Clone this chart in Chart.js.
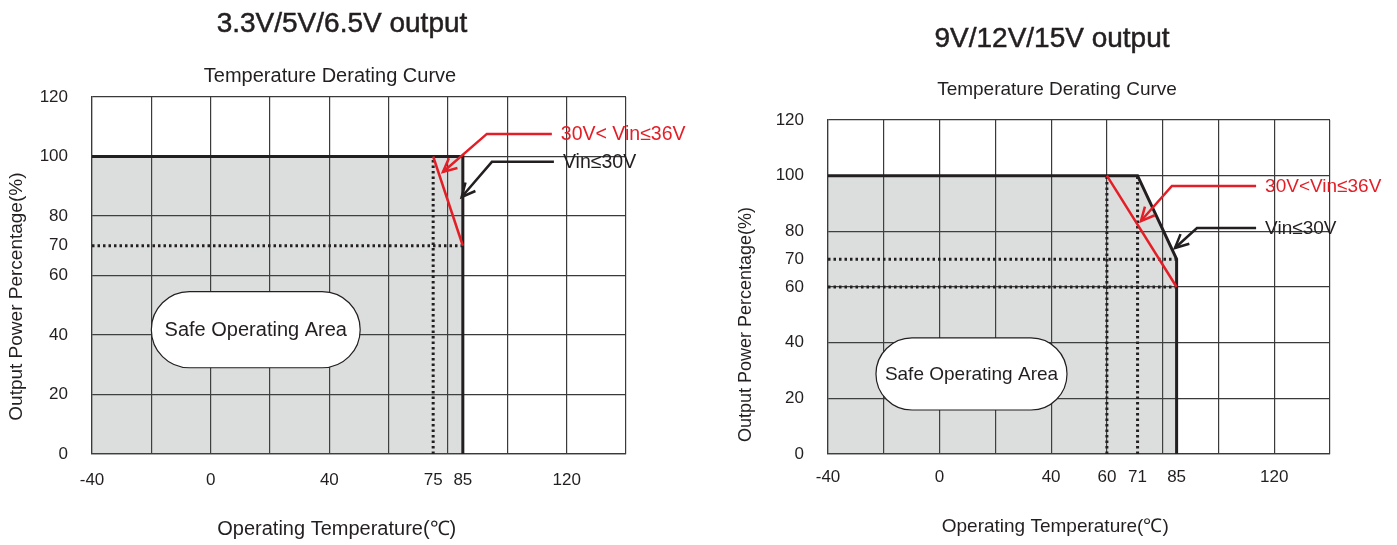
<!DOCTYPE html>
<html><head><meta charset="utf-8">
<script src="https://cdn.jsdelivr.net/npm/chart.js@4.4.1/dist/chart.umd.min.js"></script>
<style>
html,body{margin:0;padding:0;background:#fff;width:1397px;height:545px;overflow:hidden;font-family:"Liberation Sans",Arial,sans-serif;color:#231f20}
.wrap{position:absolute;top:0;height:545px}
.title{position:absolute;width:500px;text-align:center;white-space:nowrap;line-height:1}
.main{-webkit-text-stroke:0.5px #231f20}
</style></head>
<body>
<div class="wrap" style="left:0;width:700px"><canvas id="c1" width="700" height="545"></canvas></div>
<div class="wrap" style="left:700px;width:697px"><canvas id="c2" width="697" height="545"></canvas></div>
<div class="title main" style="left:92px;top:9px;font-size:28px">3.3V/5V/6.5V output</div>
<div class="title" style="left:80px;top:65px;font-size:20px">Temperature Derating Curve</div>
<div class="title main" style="left:802px;top:24px;font-size:28px">9V/12V/15V output</div>
<div class="title" style="left:807px;top:79px;font-size:19px">Temperature Derating Curve</div>
<script>
// ---------- shared axis data ----------
const yTicks = [0, 20, 40, 60, 70, 80, 100, 120];
const yGrid = [0, 20, 40, 60, 80, 100, 120];
const xGrid = [-40, -20, 0, 20, 40, 60, 80, 100, 120, 140];

// ---------- chart A: 3.3V/5V/6.5V output ----------
const xLabelsA = [-40, 0, 40, 75, 85, 120];
const tempLowA = [-40, 85, 85];        // Vin<=30V
const powerLowA = [100, 100, 0];
const tempHighA = [75, 85];            // 30V<Vin<=36V
const powerHighA = [100, 70];
const refXA = [[-40, 85], [75, 75]];   // dotted reference lines
const refYA = [[70, 70], [0, 100]];
const calloutHighXA = [115, 93.1, 78.3];
const calloutHighYA = [107.6, 107.6, 94.8];
const calloutLowXA = [115.7, 94.8, 84.6];
const calloutLowYA = [98.2, 98.2, 86.4];
const safeXA = [-20, 50.4];
const safeYA = [29, 54.6];

// ---------- chart B: 9V/12V/15V output ----------
const xLabelsB = [-40, 0, 40, 60, 71, 85, 120];
const tempLowB = [-40, 71, 85, 85];
const powerLowB = [100, 100, 70, 0];
const tempHighB = [60, 85];
const powerHighB = [100, 60];
const refXB = [[-40, 85], [-40, 85], [60, 60], [71, 71]];
const refYB = [[70, 70], [60, 60], [0, 100], [0, 100]];
const calloutHighXB = [113.5, 83.3, 72.2];
const calloutHighYB = [96.3, 96.3, 83.7];
const calloutLowXB = [113.5, 92.3, 84.4];
const calloutLowYB = [81.2, 81.2, 74.0];
const safeXB = [-22.8, 45.7];
const safeYB = [15.8, 41.7];

const INK = '#231f20', RED = '#e41e26', GRID = '#3a3a3a';
const pts = (xs, ys) => xs.map((v, i) => ({x: v, y: ys[i]}));
const pad = n => ' '.repeat(n);

Chart.defaults.font.family = '"Liberation Sans", Arial, sans-serif';
Chart.defaults.color = INK;

function overlay(s) {
  return {
    id: 'overlay',
    afterDatasetsDraw(chart) {
      const {ctx, scales: {x, y}} = chart;
      ctx.save();
      const l = x.getPixelForValue(s.safeX[0]), r = x.getPixelForValue(s.safeX[1]);
      const t = y.getPixelForValue(s.safeY[1]), b = y.getPixelForValue(s.safeY[0]);
      ctx.beginPath();
      ctx.roundRect(l, t, r - l, b - t, (b - t) / 2);
      ctx.fillStyle = '#fff'; ctx.fill();
      ctx.lineWidth = 1.2; ctx.strokeStyle = INK; ctx.stroke();
      ctx.fillStyle = INK; ctx.font = s.safeFont;
      ctx.textAlign = 'center'; ctx.textBaseline = 'middle';
      ctx.fillText('Safe Operating Area', (l + r) / 2, (t + b) / 2 + 1);
      s.callouts.forEach(c => {
        const p = c.x.map((v, i) => [x.getPixelForValue(v), y.getPixelForValue(c.y[i])]);
        ctx.strokeStyle = c.color; ctx.lineWidth = 2.5; ctx.lineJoin = 'miter';
        ctx.beginPath();
        p.forEach((q, i) => i ? ctx.lineTo(q[0], q[1]) : ctx.moveTo(q[0], q[1]));
        ctx.stroke();
        const [px, py] = p[p.length - 1], [qx, qy] = p[p.length - 2];
        const a = Math.atan2(py - qy, px - qx), L = 15, A = 0.45;
        ctx.beginPath();
        ctx.moveTo(px - L * Math.cos(a - A), py - L * Math.sin(a - A));
        ctx.lineTo(px, py);
        ctx.lineTo(px - L * Math.cos(a + A), py - L * Math.sin(a + A));
        ctx.stroke();
        ctx.fillStyle = c.color; ctx.font = s.calloutFont;
        ctx.textAlign = 'left'; ctx.textBaseline = 'middle';
        ctx.fillText(c.text, p[0][0] + 9, p[0][1] + 1);
      });
      ctx.restore();
    }
  };
}

function build(id, s) {
  const datasets = [
    {label: s.highLabel, data: pts(s.tempHigh, s.powerHigh), borderColor: RED, borderWidth: 2.5, order: 0},
    ...s.refX.map((rx, i) => ({label: 'ref' + i, data: pts(rx, s.refY[i]), borderColor: INK, borderWidth: 3, borderDash: [2.5, 3], order: 1})),
    {label: 'Vin≤30V', data: pts(s.tempLow, s.powerLow), borderColor: INK, borderWidth: 3,
     fill: 'origin', backgroundColor: 'rgba(80,90,85,0.2)', order: 2}
  ];
  datasets.forEach(d => { d.showLine = true; d.pointRadius = 0; d.tension = 0; d.borderJoinStyle = 'miter'; });
  new Chart(document.getElementById(id), {
    type: 'scatter',
    data: {datasets},
    options: {
      responsive: false, animation: false, devicePixelRatio: 1,
      layout: {padding: {top: s.top, left: 0, right: s.right, bottom: 0}},
      plugins: {legend: {display: false}, tooltip: {enabled: false}},
      scales: {
        x: {
          type: 'linear', min: -40, max: 140,
          afterBuildTicks: sc => { sc.ticks = [...new Set([...xGrid, ...s.xLabels])].sort((a, b) => a - b).map(v => ({value: v})); },
          afterFit: sc => { sc.height = 91; },
          grid: {drawTicks: false, color: c => xGrid.includes(c.tick.value) ? GRID : 'rgba(0,0,0,0)', lineWidth: c => xGrid.includes(c.tick.value) ? 1.2 : 0},
          border: {color: GRID, width: 1.2},
          ticks: {autoSkip: false, maxRotation: 0, minRotation: 0, padding: s.xPad, font: {size: 17}, color: INK,
                  callback: v => s.xLabels.includes(v) ? String(v) : ''},
          title: {display: true, text: 'Operating Temperature(℃)' + pad(s.xTitleShift), font: {size: s.xTitleSize}, color: INK, padding: {top: 0, bottom: s.xTitlePad}}
        },
        y: {
          type: 'linear', min: 0, max: 120,
          afterBuildTicks: sc => { sc.ticks = yTicks.map(v => ({value: v})); },
          afterFit: sc => { sc.width = s.left; },
          grid: {drawTicks: false, color: c => yGrid.includes(c.tick.value) ? GRID : 'rgba(0,0,0,0)', lineWidth: c => yGrid.includes(c.tick.value) ? 1.2 : 0},
          border: {color: GRID, width: 1.2},
          ticks: {padding: 24, font: {size: 17}, color: INK, callback: v => String(v)},
          title: {display: true, text: 'Output Power Percentage(%)' + pad(s.yTitleShift), font: {size: s.yTitleSize}, color: INK, padding: {top: s.yTitlePad, bottom: 0}}
        }
      }
    },
    plugins: [overlay(s)]
  });
}

build('c1', {
  top: 97, right: 74, left: 92, xPad: 16, xTitlePad: 4, yTitlePad: 5, xTitleSize: 20, yTitleSize: 19,
  xTitleShift: 8, yTitleShift: 8,
  xLabels: xLabelsA, tempLow: tempLowA, powerLow: powerLowA, tempHigh: tempHighA, powerHigh: powerHighA,
  highLabel: '30V< Vin≤36V', refX: refXA, refY: refYA, safeX: safeXA, safeY: safeYA,
  safeFont: '20px "Liberation Sans", Arial, sans-serif', calloutFont: '19.5px "Liberation Sans", Arial, sans-serif',
  callouts: [
    {x: calloutHighXA, y: calloutHighYA, color: RED, text: '30V< Vin≤36V'},
    {x: calloutLowXA, y: calloutLowYA, color: INK, text: 'Vin≤30V'}
  ]
});

build('c2', {
  top: 120, right: 67, left: 128, xPad: 13, xTitlePad: 7, yTitlePad: 35, xTitleSize: 19, yTitleSize: 18,
  xTitleShift: 9, yTitleShift: 15,
  xLabels: xLabelsB, tempLow: tempLowB, powerLow: powerLowB, tempHigh: tempHighB, powerHigh: powerHighB,
  highLabel: '30V<Vin≤36V', refX: refXB, refY: refYB, safeX: safeXB, safeY: safeYB,
  safeFont: '19px "Liberation Sans", Arial, sans-serif', calloutFont: '19px "Liberation Sans", Arial, sans-serif',
  callouts: [
    {x: calloutHighXB, y: calloutHighYB, color: RED, text: '30V<Vin≤36V'},
    {x: calloutLowXB, y: calloutLowYB, color: INK, text: 'Vin≤30V'}
  ]
});
</script>
</body></html>
